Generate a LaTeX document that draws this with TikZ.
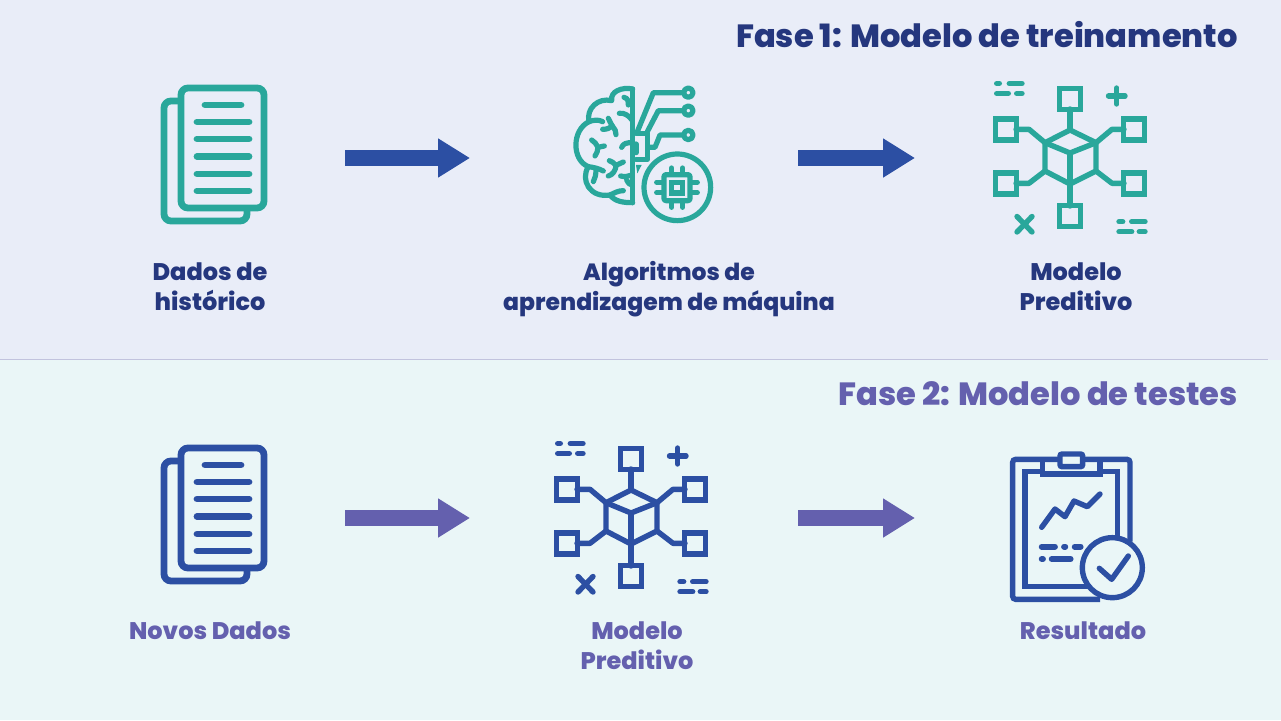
\documentclass[tikz,border=0pt]{standalone}
\usepackage{fontspec}
\setmainfont{Poppins}[BoldFont={Poppins ExtraBold}]
\usetikzlibrary{arrows.meta}
\definecolor{bgtop}{HTML}{E9EDF8}
\definecolor{bgbot}{HTML}{EAF6F7}
\definecolor{tealc}{HTML}{29A79B}
\definecolor{bluec}{HTML}{2C4FA3}
\definecolor{navyc}{HTML}{25377E}
\definecolor{purpc}{HTML}{6460AE}
\definecolor{linec}{HTML}{C2C3DE}
\tikzset{
  x=1pt,y=-1pt,
  lbl/.style={align=center,font=\bfseries\fontsize{24}{30}\selectfont,inner sep=0pt},
  lblb/.style={align=center,font=\bfseries\fontsize{23.5}{30}\selectfont,inner sep=0pt},
  phase/.style={anchor=east,font=\bfseries\fontsize{32.1}{36}\selectfont,inner sep=0pt},
  blockarrow/.style={line width=16pt,-{Triangle[length=32pt,width=37pt]}},
  ic/.style={line width=5.4pt,line cap=round,line join=round},
  docicon/.pic={
    \draw[line width=6.8pt,rounded corners=7pt] (181,88) rectangle (264,208);
    \draw[line width=6.8pt,rounded corners=7pt] (181,101) -- (164,101) -- (164,221) -- (247,221) -- (247,208);
    \foreach \y/\a/\b in {105/205/241,122/197/249,139/197/249,156.5/197/249,174/197/249,191/197/249}
      \draw[line width=6.8pt,line cap=round] (\a,\y) -- (\b,\y);
  },
  neticon/.pic={
    \begin{scope}[ic]
    \foreach \x/\y in {1070/98.7,1006/129.3,1134/129.3,1006/183.3,1134/183.3,1070/216}
      \draw[line cap=butt,line join=miter] (\x-10.5,\y-10.5) rectangle (\x+10.5,\y+10.5);
    \draw (1070,130) -- (1096,142.7) -- (1096,171) -- (1070,184) -- (1045,171) -- (1045,142.7) -- cycle;
    \draw (1045,142.7) -- (1070,153) -- (1096,142.7);
    \draw (1070,153) -- (1070,184);
    \draw (1070,109) -- (1070,130);
    \draw (1070,184) -- (1070,206);
    \draw (1016,129.3) -- (1029,129.3) -- (1045,142.7);
    \draw (1124,129.3) -- (1112,129.3) -- (1096,142.7);
    \draw (1016,183.3) -- (1029,183.3) -- (1045,171);
    \draw (1124,183.3) -- (1112,183.3) -- (1096,171);
    \draw (1108.5,96) -- (1125,96);
    \draw (1116.7,88) -- (1116.7,104);
    \draw (1017,216.5) -- (1032,232);
    \draw (1032,216.5) -- (1017,232);
    \draw (996.7,83.5) -- (999.3,83.5);
    \draw (1009.3,83.5) -- (1022,83.5);
    \draw (996.7,93.5) -- (1008.3,93.5);
    \draw (1016.7,93.5) -- (1022,93.5);
    \draw (1119,221.7) -- (1122.7,221.7);
    \draw (1131.7,221.7) -- (1145,221.7);
    \draw (1119,231.7) -- (1131.7,231.7);
    \draw (1139.3,231.7) -- (1145,231.7);
    \end{scope}
  },
  brainicon/.pic={
    \begin{scope}[shift={(560,70)},x=0.3333pt,y=-0.3333pt,line width=5.2pt,line cap=round,line join=round]
    \draw (218,57) -- (218,398);
    \draw (218,57) .. controls (185,50) and (150,65) .. (155,92)
          .. controls (115,82) and (78,115) .. (87,155)
          .. controls (35,180) and (35,270) .. (85,290)
          .. controls (60,330) and (90,385) .. (150,375)
          .. controls (165,395) and (190,398) .. (218,398);
    \draw (87,155) .. controls (100,150) and (115,148) .. (128,155);
    \draw (85,290) .. controls (100,292) and (115,295) .. (130,303);
    \draw (100,335) .. controls (105,325) and (108,315) .. (108,298);
    \draw (150,375) .. controls (165,368) and (175,362) .. (190,362);
    \draw (192,82) .. controls (205,85) and (205,95) .. (205,105);
    \draw (178,130) .. controls (192,128) and (205,135) .. (216,150);
    % branching folds
    \draw (145,145) .. controls (150,155) and (153,162) .. (157,168) .. controls (150,175) and (140,178) .. (128,178);
    \draw (157,168) .. controls (165,175) and (168,185) .. (168,194);
    \draw (95,210) .. controls (103,215) and (110,222) .. (114,232) .. controls (114,242) and (110,250) .. (105,258);
    \draw (114,232) -- (133,228);
    \draw (148,272) .. controls (155,275) and (163,279) .. (168,286) .. controls (168,300) and (158,315) .. (145,318);
    \draw (168,286) -- (190,276);
    \draw (185,232) .. controls (190,220) and (200,218) .. (216,218);
    \draw (182,318) .. controls (195,322) and (205,318) .. (216,315);
    \draw (200,330) .. controls (205,340) and (210,345) .. (216,345);
    % circuit
    \draw (228,190) -- (262,190) -- (262,268) -- (228,268);
    \draw (228,222) -- (228,248);
    \draw (232,185) -- (280,68) -- (365,68);
    \draw (262,185) -- (295,122) -- (370,122);
    \draw (265,232) -- (285,232) -- (300,195) -- (370,195);
    \foreach \y in {68,122,195} \draw (385,\y) circle (14);
    \fill (228,285) -- (245,285) -- (232,310) -- cycle;
    \draw (352,352) circle (100);
    \draw[rounded corners=2pt] (312,314) rectangle (390,392);
    \draw[line cap=butt,line join=miter] (335,337) rectangle (367,369);
    \foreach \a in {335,368} {
      \draw (\a,294) -- (\a,312);
      \draw (\a,394) -- (\a,412);
    }
    \foreach \a in {337,368} {
      \draw (290,\a) -- (310,\a);
      \draw (392,\a) -- (412,\a);
    }
    \end{scope}
  },
  clipicon/.pic={
    \begin{scope}[shift={(1000,440)},x=0.3333pt,y=-0.3333pt,line width=5.4pt,line cap=butt,line join=miter]
    \draw[rounded corners=3pt] (390,305) -- (390,58) -- (38,58) -- (38,478) -- (300,478);
    \draw (127,95) -- (75,95) -- (75,440) -- (352,440) -- (352,95) -- (300,95);
    \draw (127,58) -- (127,102) -- (300,102) -- (300,58);
    \draw[rounded corners=2pt,fill=bgbot] (180,80) -- (180,42) -- (248,42) -- (248,80) -- cycle;
    \draw[fill=bgbot] (337,383) circle (90);
    \begin{scope}[line cap=round,line join=round]
    \draw (298,385) -- (335,418) -- (385,348);
    \draw (125,262) -- (165,207) -- (195,230) -- (222,183) -- (262,200) -- (300,162);
    \draw[line width=5.8pt] (125,320) -- (165,320);
    \draw[line width=5.8pt] (192,320) -- (196,320);
    \draw[line width=5.8pt] (224,320) -- (242,320);
    \draw[line width=5.8pt] (125,357) -- (129,357);
    \draw[line width=5.8pt] (155,357) -- (212,357);
    \end{scope}
    \end{scope}
  }
}
\begin{document}
\begin{tikzpicture}
\useasboundingbox (0,0) rectangle (1281,720);
\fill[bgbot] (0,360) rectangle (1281,720);
\fill[bgtop] (0,0) rectangle (1281,360);
\coordinate (lineL) at (0,359.5);
\coordinate (lineR) at (1268,359.5);
\draw[color=linec,line width=1.2pt] (lineL) -- (lineR);

\node[phase,text=navyc] (title1) at (1238,35) {Fase 1: Modelo de treinamento};
\node[phase,text=purpc] (title2) at (1238,394) {Fase 2: Modelo de testes};

\pic[color=tealc] (doca) at (0,0) {docicon};
\pic[color=tealc] (brain) at (0,0) {brainicon};
\pic[color=tealc] (neta) at (0,0) {neticon};
\pic[color=bluec] (docb) at (0,360) {docicon};
\pic[color=bluec] (netb) at (-439,360) {neticon};
\pic[color=bluec] (clip) at (0,0) {clipicon};

\node[lbl,text=navyc] (l1) at (210,287) {Dados de\\histórico};
\node[lblb,text=navyc] (l2) at (669,289) {Algoritmos de\\aprendizagem de máquina};
\node[lbl,text=navyc] (l3) at (1076,287) {Modelo\\Preditivo};
\node[lbl,text=purpc] (l4) at (210,631) {Novos Dados};
\node[lbl,text=purpc] (l5) at (637,646) {Modelo\\Preditivo};
\node[lbl,text=purpc] (l6) at (1083,631) {Resultado};

\coordinate (a1s) at (345,158);
\coordinate (a1e) at (470,158);
\coordinate (a2s) at (798,158);
\coordinate (a2e) at (915,158);
\coordinate (a3s) at (345,518);
\coordinate (a3e) at (470,518);
\coordinate (a4s) at (798,518);
\coordinate (a4e) at (915,518);
\draw[blockarrow,color=bluec] (a1s) -- (a1e);
\draw[blockarrow,color=bluec] (a2s) -- (a2e);
\draw[blockarrow,color=purpc] (a3s) -- (a3e);
\draw[blockarrow,color=purpc] (a4s) -- (a4e);
\end{tikzpicture}
\end{document}
